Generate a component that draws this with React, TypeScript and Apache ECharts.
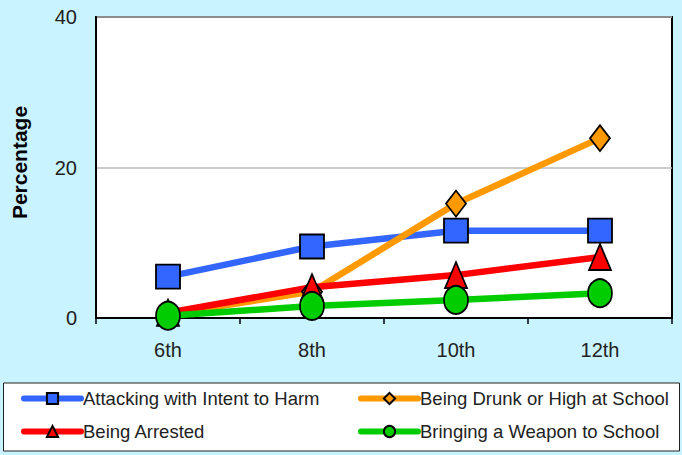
import React, { useEffect, useRef } from "react";
import * as echarts from "echarts";

const grades = ["6th", "8th", "10th", "12th"];
const attacking = [5.5, 9.5, 11.6, 11.6];
const drunk = [0.5, 3.5, 15.2, 23.9];
const arrested = [0.7, 4.1, 5.7, 8.1];
const weapon = [0.3, 1.6, 2.4, 3.3];
const yTicks = { min: 0, max: 40, interval: 20 };

const FONT = "Liberation Sans";

export default function App() {
  const ref = useRef<HTMLDivElement>(null);
  useEffect(() => {
    const chart = echarts.init(ref.current!, null, { renderer: "svg" });
    const mk = (name: string, data: number[], color: string, symbol: string, size: number | number[]) => ({
      name,
      type: "line",
      data,
      symbol,
      symbolSize: size,
      lineStyle: { color, width: 6.5 },
      itemStyle: { color, borderColor: "#000", borderWidth: 1.8 },
      emphasis: { disabled: true },
    });
    const legendCommon = {
      orient: "vertical",
      top: 384,
      itemWidth: 57,
      itemHeight: 14,
      itemGap: 14,
      lineStyle: { width: 6, cap: "round" },
      textStyle: { fontSize: 18.5, color: "#222", fontFamily: FONT, padding: [0, 0, 0, -3] },
    };
    chart.setOption({
      animation: false,
      backgroundColor: "#C9F3FF",
      textStyle: { fontFamily: FONT },
      grid: {
        left: 96, right: 10, top: 17, bottom: 137,
        show: true, backgroundColor: "#fff", borderColor: "#000", borderWidth: 2,
      },
      xAxis: {
        type: "category",
        data: grades,
        axisLine: { lineStyle: { color: "#000", width: 2 } },
        axisTick: { show: true, length: 6, lineStyle: { color: "#000", width: 1.5 } },
        axisLabel: { color: "#222", fontSize: 20, margin: 22, fontFamily: FONT },
      },
      yAxis: {
        type: "value",
        ...yTicks,
        name: "Percentage",
        nameLocation: "middle",
        nameRotate: 90,
        nameGap: 66,
        nameTextStyle: { fontWeight: "bold", fontSize: 21, color: "#000", fontFamily: FONT, padding: [0, 0, 0, 10] },
        axisLine: { show: true, lineStyle: { color: "#000", width: 2 } },
        axisTick: { show: false },
        axisLabel: { color: "#222", fontSize: 20, margin: 19, fontFamily: FONT },
        splitLine: { lineStyle: { color: "#BBB", width: 1.5 } },
      },
      graphic: [
        {
          type: "rect",
          shape: { x: 3.5, y: 383, width: 676, height: 68 },
          style: { fill: "#fff", stroke: "#222", lineWidth: 1 },
          z: -1,
        },
      ],
      legend: [
        { ...legendCommon, data: ["Attacking with Intent to Harm", "Being Arrested"], left: 16 },
        { ...legendCommon, data: ["Being Drunk or High at School", "Bringing a Weapon to School"], left: 353 },
      ],
      series: [
        mk("Attacking with Intent to Harm", attacking, "#3366FF", "rect", 24),
        mk("Being Drunk or High at School", drunk, "#FF9900", "diamond", [20, 26]),
        mk("Being Arrested", arrested, "#FF0000", "triangle", [22, 26]),
        mk("Bringing a Weapon to School", weapon, "#00CC00", "circle", [24, 28]),
      ],
    });
    return () => chart.dispose();
  }, []);
  return <div ref={ref} style={{ position: "fixed", left: 0, top: 0, width: 682, height: 455 }} />;
}
